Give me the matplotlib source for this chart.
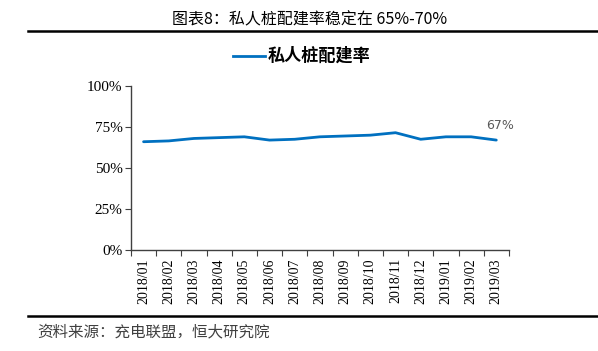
import numpy as np
import matplotlib.pyplot as plt
from matplotlib.lines import Line2D

plt.rcParams['font.family'] = ['Noto Sans CJK SC', 'DejaVu Sans']

months = ['2018/01', '2018/02', '2018/03', '2018/04', '2018/05', '2018/06', '2018/07',
          '2018/08', '2018/09', '2018/10', '2018/11', '2018/12', '2019/01', '2019/02', '2019/03']
rate = [66.0, 66.5, 68.0, 68.5, 69.0, 67.0, 67.5, 69.0, 69.5, 70.0, 71.5, 67.5, 69.0, 69.0, 67.0]
yticks = [0, 25, 50, 75, 100]

fig = plt.figure(figsize=(5.98, 3.51), dpi=100)

# 标题和上下横线
fig.text(0.518, 0.943, '图表8：私人桩配建率稳定在 65%-70%', ha='center', va='center', fontsize=11.5)
fig.add_artist(Line2D([0.047, 1.0], [0.912, 0.912], color='black', lw=1.8))
fig.add_artist(Line2D([0.047, 1.0], [0.100, 0.100], color='black', lw=1.8))
fig.text(0.063, 0.054, '资料来源：充电联盟，恒大研究院', ha='left', va='center',
         fontsize=11.2, style='italic', color='#404040')

# 图例
fig.add_artist(Line2D([0.39, 0.443], [0.84, 0.84], color='#0070C0', lw=2))
fig.text(0.448, 0.84, '私人桩配建率', ha='left', va='center', fontsize=12.3, fontweight='bold')

ax = fig.add_axes([0.219, 0.288, 0.632, 0.467])
x = np.arange(len(months))
ax.plot(x, rate, color='#0070C0', lw=2.0, solid_capstyle='round')
ax.annotate('%d%%' % round(rate[-1]), (x[-1], rate[-1]), xytext=(-7, 6), textcoords='offset points',
            ha='left', va='bottom', fontsize=9, color='#595959', family='DejaVu Sans')

ax.set_xlim(-0.5, len(months) - 0.5)
ax.set_ylim(0, 100)
ax.set_yticks(yticks)
ax.set_yticklabels(['%d%%' % v for v in yticks], family='Liberation Serif', fontsize=11)
ax.set_xticks(np.append(x - 0.5, x[-1] + 0.5))
ax.set_xticklabels([])
ax.set_xticks(x, minor=True)
ax.set_xticklabels(months, minor=True, rotation=90, family='Liberation Serif', fontsize=10)
ax.tick_params(axis='x', which='minor', length=0, pad=6)
ax.tick_params(axis='x', which='major', length=4, direction='out', color='#404040')
ax.tick_params(axis='y', length=4, direction='out', color='#404040', pad=2)
for s in ['top', 'right']:
    ax.spines[s].set_visible(False)
for s in ['left', 'bottom']:
    ax.spines[s].set_color('#404040')
    ax.spines[s].set_linewidth(1.0)

fig.savefig('out.png', dpi=100)
